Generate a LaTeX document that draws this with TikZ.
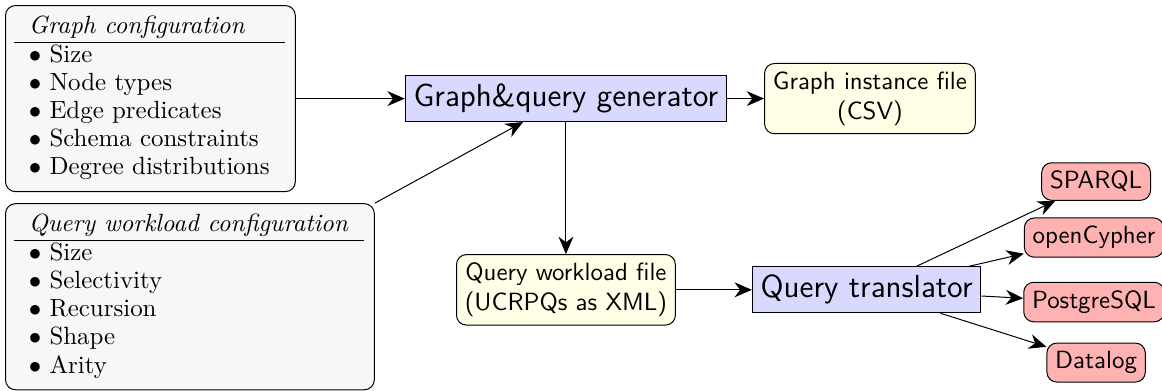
\documentclass[tikz,border=0pt]{standalone}
\usepackage{tikz}
\usetikzlibrary{arrows.meta,positioning}
\renewcommand{\arraystretch}{0.94}

\tikzset{
  confbox/.style={draw, rounded corners, fill=black!3},
  procbox/.style={draw, fill=blue!15, font=\sffamily\fontsize{12.8}{15}\selectfont},
  filebox/.style={draw, rounded corners, fill=yellow!10, font=\sffamily, align=center},
  langbox/.style={draw, rounded corners, fill=red!30, font=\sffamily},
}

\begin{document}
\begin{tikzpicture}[>={Stealth[length=7pt,width=6pt]}]
\useasboundingbox (0,0) rectangle (16.40,5.505);
% configuration boxes
\node[confbox, anchor=north west] (gconf) at (0.071,5.434) {\begin{tabular}{l}
\textit{Graph configuration}\\ \hline
$\bullet$ Size\\
$\bullet$ Node types\\
$\bullet$ Edge predicates\\
$\bullet$ Schema constraints\\
$\bullet$ Degree distributions
\end{tabular}\hspace*{1pt}};
\node[confbox, below=0.155cm of gconf.south west, anchor=north west] (qconf) {\begin{tabular}{l}
\textit{Query workload configuration}\\ \hline
$\bullet$ Size\\
$\bullet$ Selectivity\\
$\bullet$ Recursion\\
$\bullet$ Shape\\
$\bullet$ Arity
\end{tabular}\hspace*{1pt}};
% tools and files
\node[procbox, right=1.538cm of gconf] (gen) {Graph\&query generator};
\node[filebox, right=0.522cm of gen] (inst) {Graph instance file\\(CSV)};
\node[filebox, below=1.863cm of gen] (qfile) {Query workload file\\(UCRPQs as XML)};
\node[procbox, right=1.073cm of qfile] (trans) {Query translator};
% target languages
\node[langbox] (sparql) at (15.47,2.943) {SPARQL};
\node[langbox] (cypher) at (15.44,2.152) {openCypher};
\node[langbox] (postgres) at (15.44,1.242) {PostgreSQL};
\node[langbox] (datalog) at (15.47,0.388) {Datalog};
% connectors
\draw[->] (gconf) -- (gen);
\draw[->] (qconf.north east) -- (gen);
\draw[->] (gen) -- (inst);
\draw[->] (gen) -- (qfile);
\draw[->] (qfile) -- (trans);
\foreach \lang in {sparql,cypher,postgres,datalog}
  \draw[->] (trans) -- (\lang);
\end{tikzpicture}
\end{document}
